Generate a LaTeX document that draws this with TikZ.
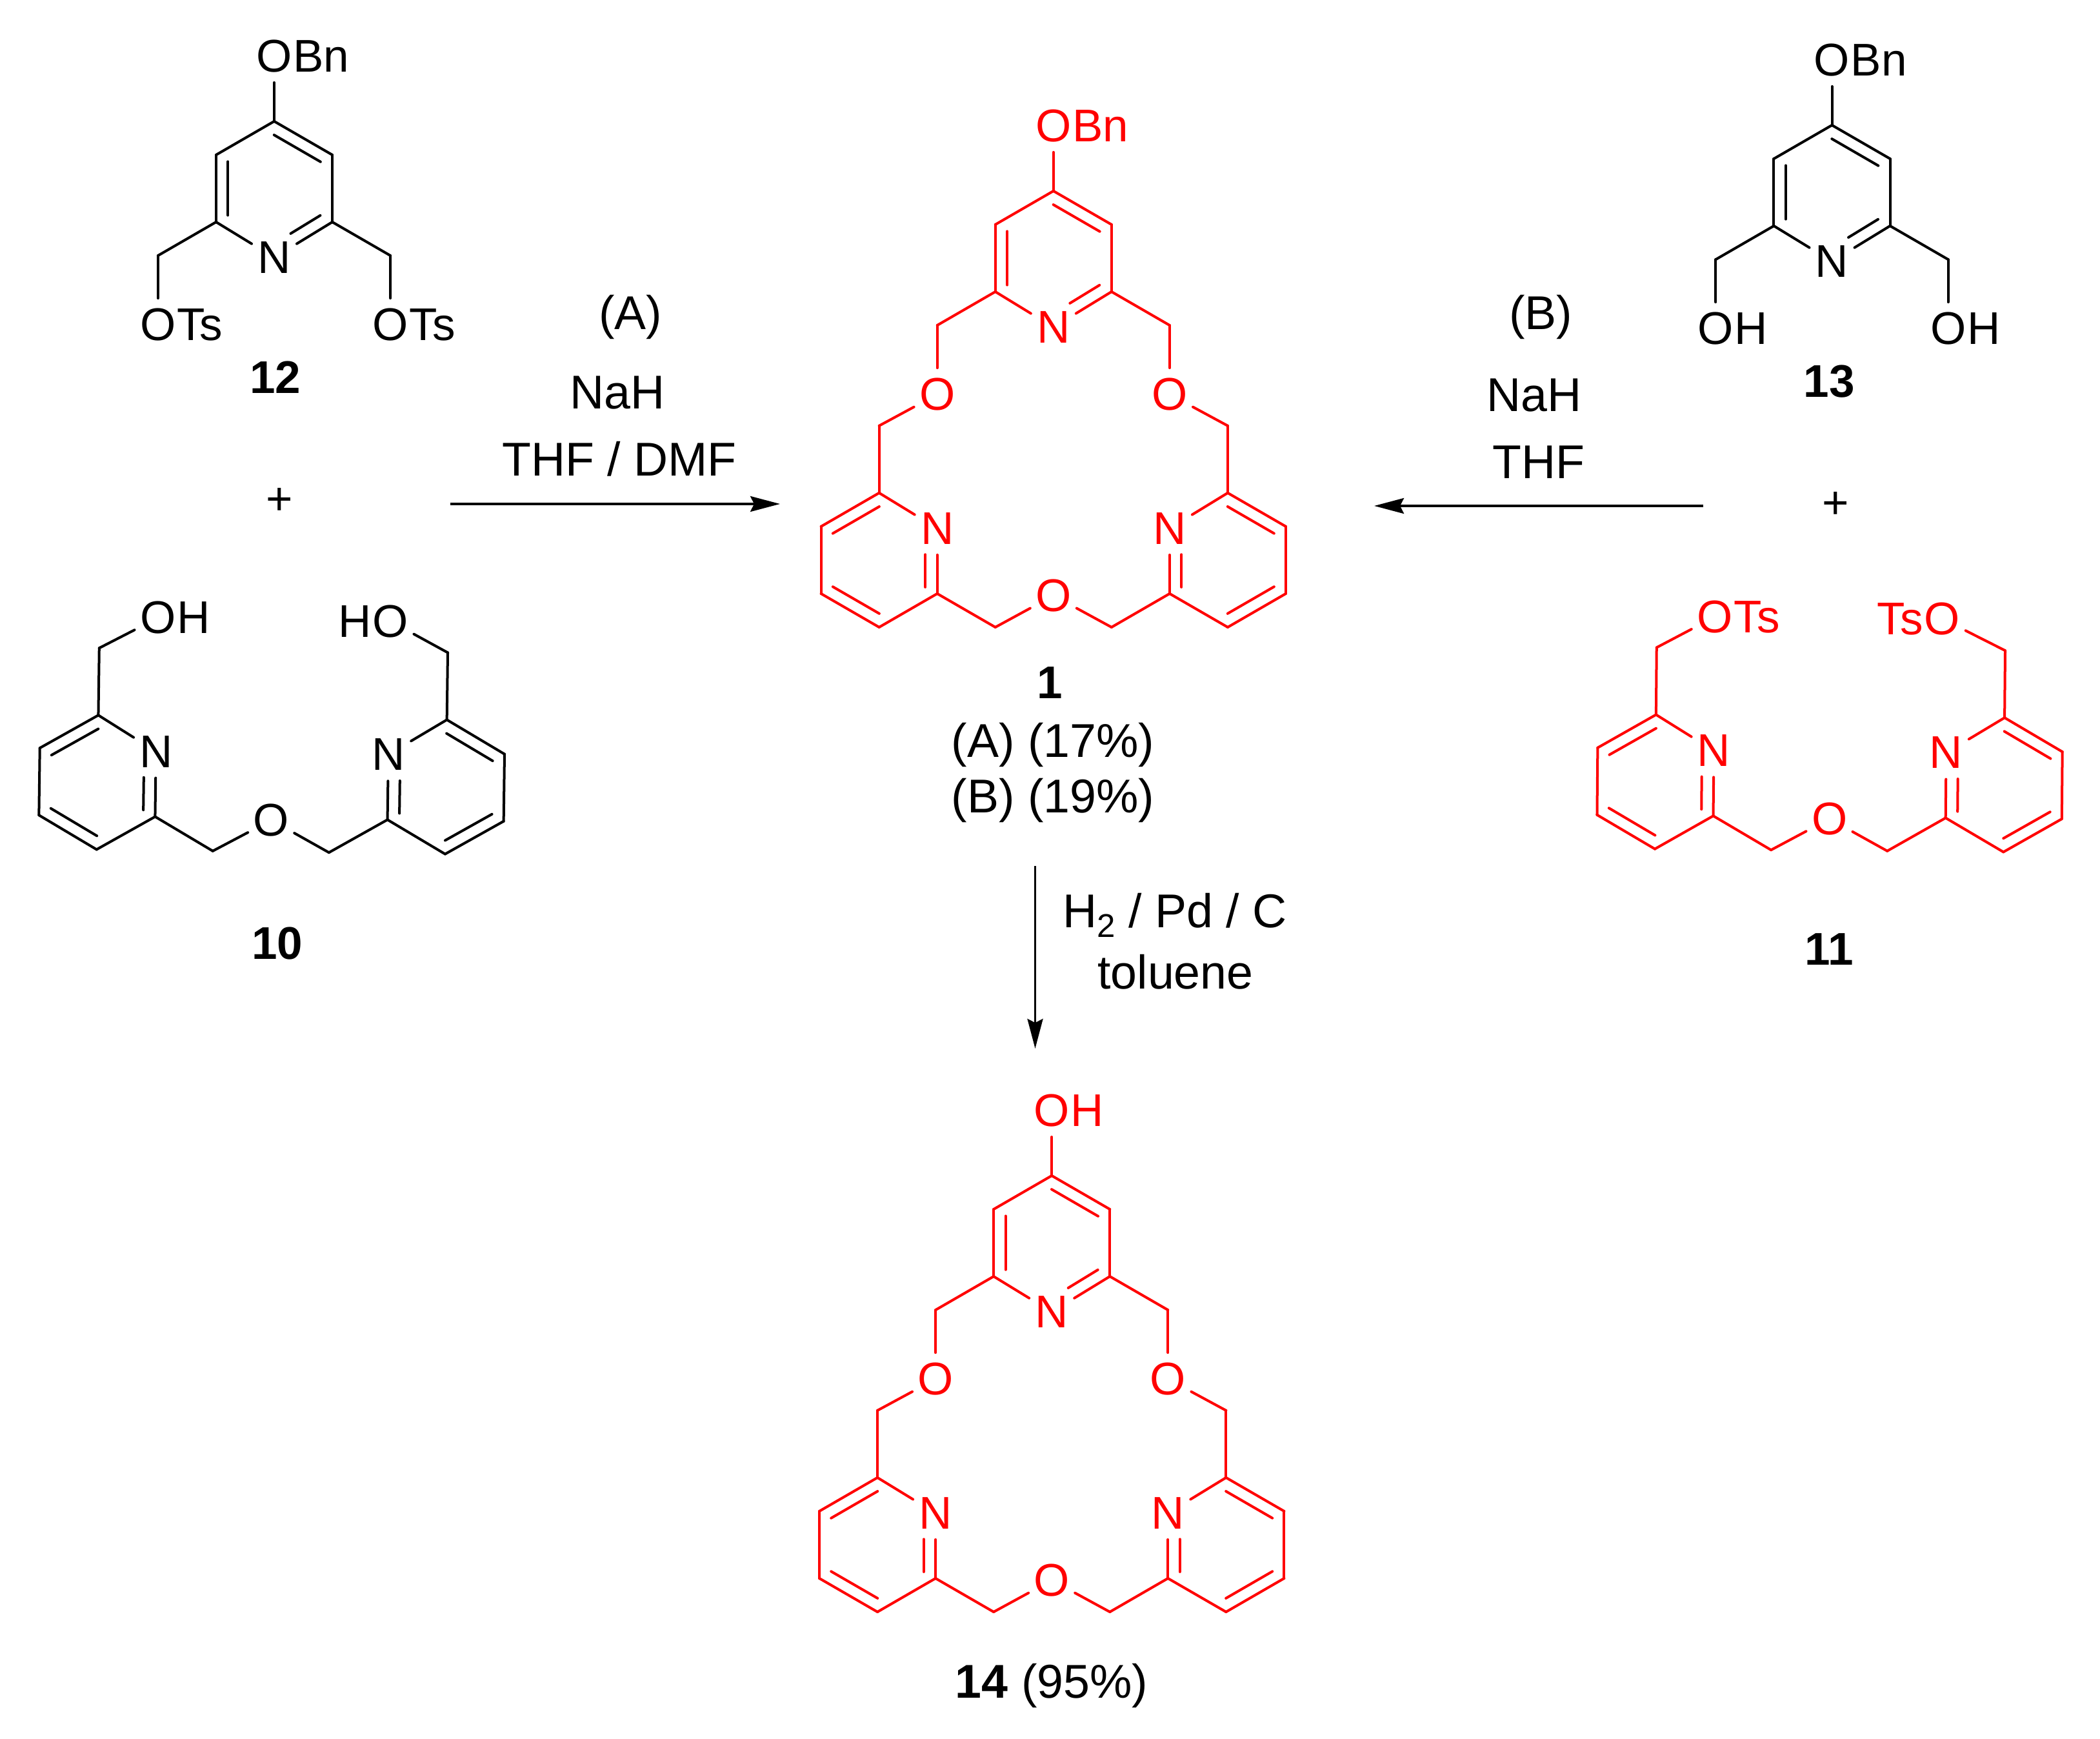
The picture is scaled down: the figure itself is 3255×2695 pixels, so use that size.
\documentclass[tikz,border=0pt]{standalone}
\usepackage{fontspec}
\setmainfont{Liberation Sans}
\usetikzlibrary{arrows.meta,calc}

\newcommand{\innerbond}[4]{\draw ($(#1)!#3!(#2)!.184cm!-90:(#2)$) -- ($(#1)!#4!(#2)!.184cm!-90:(#2)$);}
\newcommand{\subtwo}{\raisebox{-4.3pt}{\fontsize{14.5}{14.5}\selectfont 2}}

\tikzset{
  atom/.style={circle,minimum size=.78cm,inner sep=0pt,yshift=-.03cm},
  tail/.style={anchor=base west,inner sep=0pt,xshift=7.8pt},
  head/.style={anchor=base east,inner sep=0pt,xshift=-7.8pt},
  lab/.style={anchor=base,inner sep=0pt,font=\fontsize{20.9}{24}\selectfont},
  num/.style={anchor=base,inner sep=0pt,font=\fontsize{20.2}{24}\selectfont\bfseries},
  rxn/.style={-{Stealth[length=.46cm,width=.24cm,inset=.06cm]},line width=.035cm,line cap=butt},
  pics/pytop/.style={code={
    \begin{scope}[x=.9cm,y=-.52cm]
    \foreach \n/\x/\y in {c4/0/0,c3l/-1/1,c2l/-1/3,c3r/1/1,c2r/1/3,chl/-2/4,chr/2/4}
      \coordinate (\n) at (\x,\y);
    \node[atom] (nring) at (0,4) {N};
    \node[atom] (otop) at (0,-2) {O};
    \node[tail] (otopx) at (otop.base) {#1};
    \node[atom] (oleft) at (-2,6) {O};
    \node[atom] (oright) at (2,6) {O};
    \foreach \a/\b in {c4/c3l,c3l/c2l,c2l/nring,nring/c2r,c2r/c3r,c3r/c4,c4/otop,c2l/chl,chl/oleft,c2r/chr,chr/oright}
      \draw (\a) -- (\b);
    \innerbond{c2l}{c3l}{.1}{.9}
    \innerbond{c4}{c3r}{.1}{.9}
    \innerbond{c2r}{nring}{.1}{.61}
    \end{scope}}},
  pics/pylow/.style={code={
    \begin{scope}[x=.9cm,y=-.52cm]
    \foreach \n/\x/\y in {ch2l/-1/1,ch2r/1/1,c6l/-2/0,c6r/2/0,c2l/-3/-3,c2r/3/-3,c3l/-4/-2,c3r/4/-2,c4l/-4/0,c4r/4/0,c5l/-3/1,c5r/3/1,chl/-3/-5,chr/3/-5}
      \coordinate (\n) at (\x,\y);
    \node[atom] (oeth) at (0,0) {O};
    \node[atom] (nl) at (-2,-2) {N};
    \node[atom] (nr) at (2,-2) {N};
    \foreach \a/\b in {oeth/ch2l,oeth/ch2r,ch2l/c6l,ch2r/c6r,c6l/nl,nl/c2l,c2l/c3l,c3l/c4l,c4l/c5l,c5l/c6l,c6r/nr,nr/c2r,c2r/c3r,c3r/c4r,c4r/c5r,c5r/c6r,c2l/chl,c2r/chr}
      \draw (\a) -- (\b);
    \innerbond{nl}{c6l}{.4}{.9}
    \innerbond{c3l}{c2l}{.1}{.9}
    \innerbond{c5l}{c4l}{.1}{.9}
    \innerbond{c6r}{nr}{.1}{.6}
    \innerbond{c2r}{c3r}{.1}{.9}
    \innerbond{c4r}{c5r}{.1}{.9}
    \end{scope}}},
}

\begin{document}
\begin{tikzpicture}[x=.01cm,y=-.01cm,line width=.04cm,line cap=round,
    every node/.style={font=\fontsize{20.2}{24}\selectfont}]
\useasboundingbox (0,0) rectangle (3255,2695);

% Tosylate 12
\pic (m12) at (425,188) {pytop=Bn};
\node[tail] (m12tsl) at (m12oleft.base) {Ts};
\node[tail] (m12tsr) at (m12oright.base) {Ts};
\node[num] (n12) at (427,610) {12};
\node (plusl) at (433,777) {+};

% Diol 10
\pic[rotate=-.75] (m10) at (420.5,1268) {pylow};
\node[atom] (m10ol) at (245,954.5) {O};
\node[tail] (m10hl) at (m10ol.base) {H};
\node[atom] (m10or) at (605.5,960) {O};
\node[head] (m10hr) at (m10or.base) {H};
\draw (m10chl) -- (m10ol);
\draw (m10chr) -- (m10or);
\node[num] (n10) at (430,1486) {10};

% Diol 13
\pic (m13) at (2839.5,194) {pytop=Bn};
\node[tail] (m13hl) at (m13oleft.base) {H};
\node[tail] (m13hr) at (m13oright.base) {H};
\node[num] (n13) at (2835,616) {13};
\node (plusr) at (2845,783) {+};

% Tosylate 11
\pic[red,rotate=-.5] (m11) at (2835.6,1266) {pylow};
\node[atom,red] (m11ol) at (2658,953) {O};
\node[tail,red] (m11tsl) at (m11ol.base) {Ts};
\node[atom,red] (m11or) at (3010,955.8) {O};
\node[head,red] (m11tsr) at (m11or.base) {Ts};
\draw[red] (m11chl) -- (m11ol);
\draw[red] (m11chr) -- (m11or);
\node[num] (n11) at (2835.5,1495) {11};

% Macrocycle 1
\pic[red] (m1t) at (1632.8,296) {pytop=Bn};
\pic[red] (m1b) at (1632.8,920) {pylow};
\draw[red] (m1toleft) -- (m1bchl);
\draw[red] (m1toright) -- (m1bchr);
\node[num] (n1) at (1627,1083) {1};
\node[lab] (yielda) at (1632,1173) {(A) (17\%)};
\node[lab] (yieldb) at (1632,1259) {(B) (19\%)};

% Macrocycle 14
\pic[red] (m14t) at (1630.2,1822) {pytop=H};
\pic[red] (m14b) at (1630.2,2446) {pylow};
\draw[red] (m14toleft) -- (m14bchl);
\draw[red] (m14toright) -- (m14bchr);
\node[lab] (n14) at (1630,2631) {{\bfseries 14} (95\%)};

% Reaction A
\node[lab] (ra1) at (977,511) {(A)};
\node[lab] (ra2) at (957,634) {NaH};
\node[lab] (ra3) at (960,738) {THF / DMF};
\coordinate (ras) at (698,781);
\coordinate (rae) at (1209,781);
\draw[rxn] (ras) -- (rae);

% Reaction B
\node[lab] (rb1) at (2388,511) {(B)};
\node[lab] (rb2) at (2378,638) {NaH};
\node[lab] (rb3) at (2385,742) {THF};
\coordinate (rbs) at (2640,784);
\coordinate (rbe) at (2130,784);
\draw[rxn] (rbs) -- (rbe);

% Hydrogenolysis
\node[lab] (rc1) at (1821,1437) {H\subtwo{} / Pd / C};
\node[lab] (rc2) at (1822,1532) {toluene};
\coordinate (rcs) at (1604.5,1342);
\coordinate (rce) at (1604.5,1625);
\draw[rxn] (rcs) -- (rce);
\end{tikzpicture}
\end{document}
